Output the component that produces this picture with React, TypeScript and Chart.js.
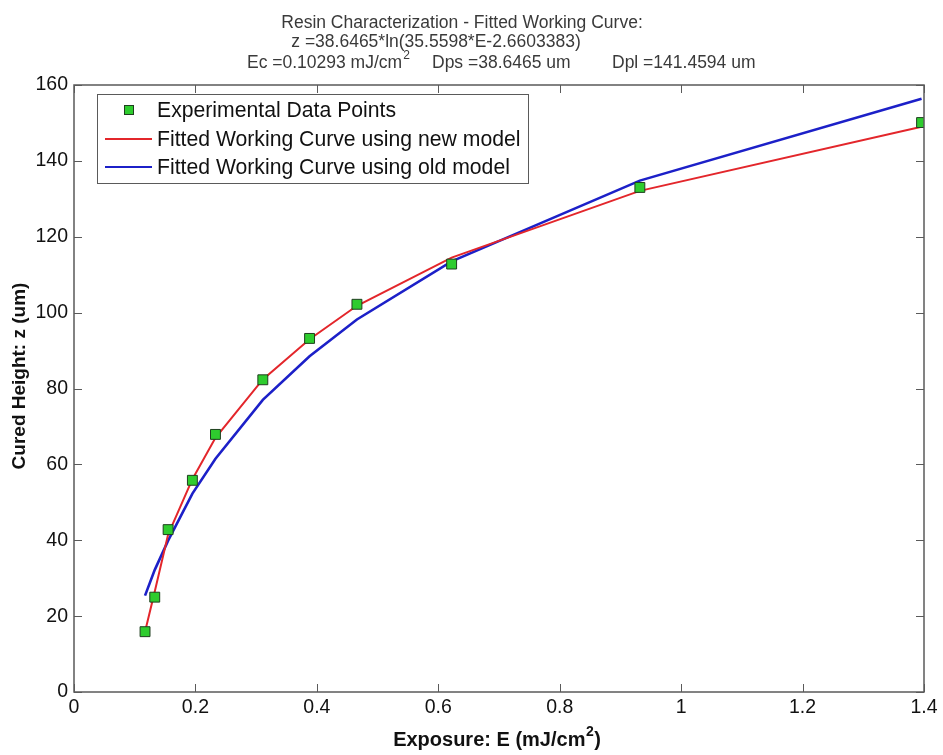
import { useEffect, useRef } from "react";
import { Chart, registerables } from "chart.js";

Chart.register(...registerables);

const exposure = [0.117, 0.133, 0.155, 0.195, 0.233, 0.311, 0.388, 0.466, 0.622, 0.932, 1.396];
const measured = [15.9, 25.0, 42.8, 55.8, 67.9, 82.3, 93.2, 102.2, 112.8, 133.0, 150.1];
const newModel = [15.9, 26.5, 41.5, 56.1, 67.0, 82.4, 93.0, 101.8, 114.5, 132.1, 149.0];
const oldModel = [25.4, 32.2, 39.9, 52.3, 61.5, 77.0, 88.5, 98.2, 113.5, 134.8, 156.4];

const xTicks = [0, 0.2, 0.4, 0.6, 0.8, 1, 1.2, 1.4];
const yTicks = [0, 20, 40, 60, 80, 100, 120, 140, 160];

const seriesLabels = [
  "Experimental Data Points",
  "Fitted Working Curve using new model",
  "Fitted Working Curve using old model",
];
const titleLine1 = "Resin Characterization - Fitted Working Curve:";
const titleLine2 = "z =38.6465*ln(35.5598*E-2.6603383)";
const titleLine3 = ["Ec =0.10293 mJ/cm", "2", "Dps =38.6465 um", "Dpl =141.4594 um"];
const xAxisTitle = ["Exposure: E (mJ/cm", "2", ")"];
const yAxisTitle = "Cured Height: z (um)";

const FONT = "'Liberation Sans', Arial, sans-serif";

const framePlugin = {
  id: "matlabFrame",
  afterDraw(chart: any) {
    const { ctx, chartArea: a, scales } = chart;
    const xs = scales.x;
    const ys = scales.y;
    ctx.save();
    // box
    ctx.strokeStyle = "#5a5a5a";
    ctx.lineWidth = 1.5;
    ctx.strokeRect(a.left, a.top, a.right - a.left, a.bottom - a.top);
    // inward ticks
    const tl = 8;
    ctx.lineWidth = 1;
    ctx.beginPath();
    xs.ticks.forEach((t: any) => {
      const px = Math.round(xs.getPixelForValue(t.value)) + 0.5;
      ctx.moveTo(px, a.bottom);
      ctx.lineTo(px, a.bottom - tl);
      ctx.moveTo(px, a.top);
      ctx.lineTo(px, a.top + tl);
    });
    ys.ticks.forEach((t: any) => {
      const py = Math.round(ys.getPixelForValue(t.value)) + 0.5;
      ctx.moveTo(a.left, py);
      ctx.lineTo(a.left + tl, py);
      ctx.moveTo(a.right, py);
      ctx.lineTo(a.right - tl, py);
    });
    ctx.stroke();

    // legend
    const lx = 97, ly = 94, lw = 431, lh = 89;
    ctx.fillStyle = "#fff";
    ctx.fillRect(lx, ly, lw, lh);
    ctx.strokeStyle = "#5a5a5a";
    ctx.strokeRect(lx + 0.5, ly + 0.5, lw, lh);
    const rows = [110, 139, 167];
    ctx.font = `21.2px ${FONT}`;
    ctx.textBaseline = "middle";
    chart.data.datasets.forEach((ds: any, i: number) => {
      const y = rows[i];
      if (i === 0) {
        ctx.fillStyle = ds.pointBackgroundColor;
        ctx.strokeStyle = ds.pointBorderColor;
        ctx.fillRect(124, y - 5, 10, 10);
        ctx.strokeRect(124.5, y - 4.5, 9, 9);
      } else {
        ctx.strokeStyle = ds.borderColor;
        ctx.lineWidth = 2;
        ctx.beginPath();
        ctx.moveTo(105, y);
        ctx.lineTo(152, y);
        ctx.stroke();
        ctx.lineWidth = 1;
      }
      ctx.fillStyle = "#111";
      ctx.fillText(ds.label, 157, y + 1);
    });

    // titles
    ctx.fillStyle = "#3a3a3a";
    ctx.font = `17.5px ${FONT}`;
    ctx.textBaseline = "alphabetic";
    ctx.textAlign = "center";
    ctx.fillText(titleLine1, 462, 28);
    ctx.fillText(titleLine2, 436, 47);
    ctx.textAlign = "left";
    ctx.fillText(titleLine3[0], 247, 68);
    const w0 = ctx.measureText(titleLine3[0]).width;
    ctx.font = `12px ${FONT}`;
    ctx.fillText(titleLine3[1], 247 + w0 + 1, 59);
    ctx.font = `17.5px ${FONT}`;
    ctx.fillText(titleLine3[2], 432, 68);
    ctx.fillText(titleLine3[3], 612, 68);

    // x axis title with superscript
    ctx.fillStyle = "#111";
    ctx.font = `bold 20px ${FONT}`;
    const xa = ctx.measureText(xAxisTitle[0]).width;
    ctx.font = `bold 14px ${FONT}`;
    const xb = ctx.measureText(xAxisTitle[1]).width;
    ctx.font = `bold 20px ${FONT}`;
    const xc = ctx.measureText(xAxisTitle[2]).width;
    const total = xa + xb + xc + 1;
    const sx = (a.left + a.right) / 2 - 2 - total / 2;
    ctx.fillText(xAxisTitle[0], sx, 746);
    ctx.font = `bold 14px ${FONT}`;
    ctx.fillText(xAxisTitle[1], sx + xa + 0.5, 736);
    ctx.font = `bold 20px ${FONT}`;
    ctx.fillText(xAxisTitle[2], sx + xa + xb + 1, 746);

    // y axis title
    ctx.save();
    ctx.translate(25, 376);
    ctx.rotate(-Math.PI / 2);
    ctx.textAlign = "center";
    ctx.font = `bold 19px ${FONT}`;
    ctx.fillText(yAxisTitle, 0, 0);
    ctx.restore();

    ctx.restore();
  },
};

export default function App() {
  const ref = useRef<HTMLCanvasElement | null>(null);
  useEffect(() => {
    document.body.style.margin = "0";
    const canvas = ref.current;
    if (!canvas) return;
    const chart = new Chart(canvas, {
      type: "line",
      data: {
        datasets: [
          {
            label: seriesLabels[0],
            data: exposure.map((x, i) => ({ x, y: measured[i] })),
            showLine: false,
            pointStyle: "rect",
            pointRadius: 7,
            pointBackgroundColor: "#2ecc2e",
            pointBorderColor: "#1f3f1f",
            pointBorderWidth: 1,
            borderColor: "#1f3f1f",
            backgroundColor: "#2ecc2e",
          },
          {
            label: seriesLabels[1],
            data: exposure.map((x, i) => ({ x, y: newModel[i] })),
            borderColor: "#e3262b",
            borderWidth: 2,
            pointRadius: 0,
            tension: 0,
            fill: false,
          },
          {
            label: seriesLabels[2],
            data: exposure.map((x, i) => ({ x, y: oldModel[i] })),
            borderColor: "#1c20c8",
            borderWidth: 2.6,
            pointRadius: 0,
            tension: 0,
            fill: false,
          },
        ],
      },
      options: {
        responsive: false,
        animation: false,
        events: [],
        layout: { padding: { left: 0, top: 85, right: 19, bottom: 0 } },
        plugins: {
          legend: { display: false },
          tooltip: { enabled: false },
          title: { display: false },
        },
        scales: {
          x: {
            type: "linear",
            min: 0,
            max: 1.4,
            afterBuildTicks: (s: any) => {
              s.ticks = xTicks.map((v) => ({ value: v }));
            },
            afterFit: (s: any) => {
              s.height = 63;
            },
            grid: { display: false, drawTicks: false },
            border: { display: false },
            ticks: {
              color: "#111",
              font: { family: FONT, size: 19.5 },
              padding: 4,
              maxRotation: 0,
              autoSkip: false,
              callback: (v: any) => String(Number(Number(v).toFixed(1))),
            },
            title: { display: false },
          },
          y: {
            type: "linear",
            min: 0,
            max: 160,
            afterBuildTicks: (s: any) => {
              s.ticks = yTicks.map((v) => ({ value: v }));
            },
            afterFit: (s: any) => {
              s.width = 74;
            },
            grid: { display: false, drawTicks: false },
            border: { display: false },
            ticks: {
              color: "#111",
              font: { family: FONT, size: 19.5 },
              padding: 6,
              autoSkip: false,
            },
            title: { display: false },
          },
        },
      },
      plugins: [framePlugin],
    });
    return () => chart.destroy();
  }, []);
  return (
    <div style={{ width: 943, height: 755 }}>
      <canvas ref={ref} width={943} height={755} style={{ display: "block" }} />
    </div>
  );
}
